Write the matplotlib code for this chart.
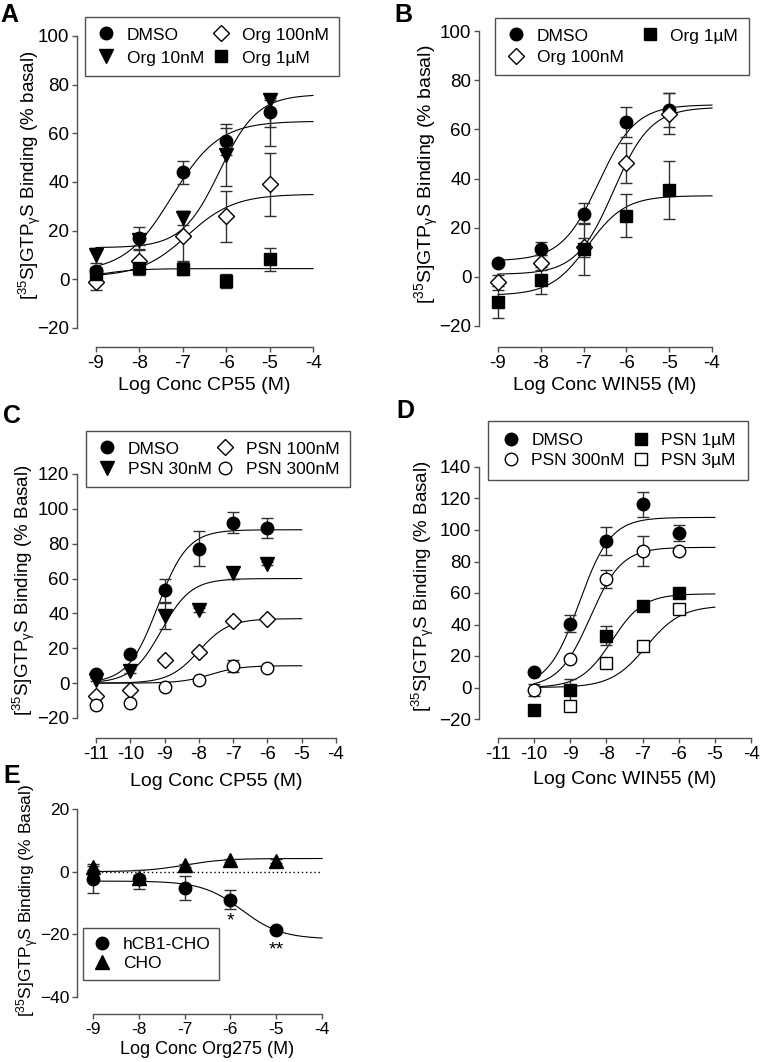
import numpy as np
import matplotlib.pyplot as plt

plt.rcParams['font.family'] = ['Liberation Sans', 'DejaVu Sans']
plt.rcParams['mathtext.fontset'] = 'custom'
plt.rcParams['mathtext.rm'] = 'Liberation Sans'
plt.rcParams['mathtext.it'] = 'Liberation Sans'
plt.rcParams['mathtext.bf'] = 'Liberation Sans:bold'

# Panel A: CP55 + Org
a_x = [-9, -8, -7, -6, -5]
a_labels = ['DMSO', 'Org 10nM', 'Org 100nM', 'Org 1µM']
a_y = [[3.4, 17, 44, 56.7, 68.7],
       [9.8, 16, 25.3, 51.2, 73.8],
       [-1, 7.5, 17.8, 26, 39],
       [2, 4.6, 4.4, -0.7, 8.2]]
a_err = [[1.5, 4.4, 4.7, 5.6, 6.0],
         [3, 2, 2.8, 12.8, 19],
         [3.4, 4.5, 10.3, 10.5, 13],
         [1, 3, 2.6, 2.8, 4.6]]
# upper bars where they differ from the lower ones (hidden above the marker)
a_err_up = [[1.5, 4.4, 4.7, 5.6, 6.0],
            [3, 2, 2.8, 12.8, 0],
            [3.4, 4.5, 10.3, 10.5, 13],
            [1, 3, 2.6, 2.8, 4.6]]
# fit: bottom, top, logEC50, hill
a_fit = [[3, 65, -7.25, 0.8],
         [13, 76, -6.15, 1.0],
         [1, 35, -6.9, 0.8],
         [0, 4.4, -8.9, 1.0]]

# Panel B: WIN55 + Org
b_x = [-9, -8, -7, -6, -5]
b_labels = ['DMSO', 'Org 100nM', 'Org 1µM']
b_y = [[5.7, 11.5, 25.7, 63, 67.8],
       [-2.3, 5.8, 12, 46.3, 66.4],
       [-10.2, -1.4, 11.2, 24.8, 35.2]]
b_err = [[1, 2.6, 4.3, 6, 7],
         [3, 3, 4, 8, 8.5],
         [6.5, 5.5, 10.5, 8.7, 11.8]]
b_fit = [[6.5, 70, -6.65, 1.0],
         [1, 69, -6.3, 1.0],
         [-7.5, 33, -6.9, 1.0]]

# Panel C: CP55 + PSN
c_x = [-11, -10, -9, -8, -7, -6]
c_labels = ['DMSO', 'PSN 30nM', 'PSN 100nM', 'PSN 300nM']
c_y = [[5.4, 16.7, 53.3, 77.2, 92, 89],
       [2, 7, 38.7, 42, 63, 68.6],
       [-7.3, -3.8, 13, 17.6, 35.8, 37],
       [-12.8, -11.5, -2.1, 1.9, 9.9, 8.6]]
c_err = [[1, 1, 6.5, 10, 6, 6],
         [1, 1, 7.5, 1, 3.5, 1],
         [1, 1, 1, 1, 1, 1],
         [1, 1, 1, 1, 3.5, 1]]
c_fit = [[0, 88, -9.2, 1.0],
         [0, 60, -9.1, 1.0],
         [0, 37, -8.0, 1.0],
         [0, 10, -7.65, 1.0]]

# Panel D: WIN55 + PSN
d_x = [-10, -9, -8, -7, -6]
d_labels = ['DMSO', 'PSN 300nM', 'PSN 1µM', 'PSN 3µM']
d_y = [[10, 40.5, 93, 116.4, 98],
       [-1.7, 17.8, 68.8, 86.6, 86.6],
       [-14.6, -1.5, 33, 52, 59.7],
       [np.nan, -12, 15.3, 26.6, 49.7]]
d_err = [[1, 5.5, 9, 8, 5],
         [4, 1, 5.5, 9.5, 1],
         [1, 7, 6, 1, 1],
         [0, 3, 1, 1, 1]]
d_fit = [[0, 108, -8.75, 1.0],
         [0, 89, -8.45, 1.0],
         [0, 59.5, -7.85, 1.0],
         [0, 52, -6.9, 0.9]]

# Panel E: Org275 alone
e_x = [-9, -8, -7, -6, -5]
e_labels = ['hCB1-CHO', 'CHO']
e_y = [[-2.4, -2.4, -5.3, -9, -18.6],
       [1.6, -2, 2, 3.7, 3.4]]
e_err = [[4.3, 3, 3.8, 3, 0.5],
         [1, 1, 0.5, 0.5, 0.5]]
e_fit = [[-3, -21.5, -5.75, 1.0],
         [0, 4.2, -7.0, 1.0]]

styles = {
    'DMSO': ('o', 'black', 9),
    'Org 10nM': ('v', 'black', 9.5),
    'Org 100nM': ('D', 'white', 8),
    'Org 1µM': ('s', 'black', 9),
    'PSN 30nM': ('v', 'black', 9.5),
    'PSN 100nM': ('D', 'white', 8),
    'PSN 300nM': ('o', 'white', 9),
    'PSN 1µM': ('s', 'black', 9),
    'PSN 3µM': ('s', 'white', 9),
    'hCB1-CHO': ('o', 'black', 9),
    'CHO': ('^', 'black', 9.5),
}

W, H, DPI = 762, 1062, 100
fig = plt.figure(figsize=(W / DPI, H / DPI), dpi=DPI)
grey = '#505050'


def sigmoid(x, p):
    bottom, top, ec50, hill = p
    return bottom + (top - bottom) / (1 + 10 ** ((ec50 - x) * hill))


def make_axes(left, right, top, bottom, x0_px, x0, x1, ylo, yhi, drop, yticks, fs):
    ax = fig.add_axes([left / W, 1 - bottom / H, (right - left) / W, (bottom - top) / H])
    dec = (right - x0_px) / (x1 - x0)
    ax.set_xlim(x0 - (x0_px - left) / dec, x1)
    ax.set_ylim(ylo, yhi)
    ax.patch.set_visible(False)
    for s in ['top', 'right']:
        ax.spines[s].set_visible(False)
    for s in ['left', 'bottom']:
        ax.spines[s].set_color(grey)
        ax.spines[s].set_linewidth(1)
    ax.spines['bottom'].set_position(('outward', drop * 72 / DPI))
    ax.spines['bottom'].set_bounds(x0, x1)
    ax.set_xticks(np.arange(x0, x1 + 1))
    ax.set_xticklabels([str(int(v)) for v in np.arange(x0, x1 + 1)])
    ax.set_yticks(yticks)
    ax.tick_params(direction='out', length=3.5, width=1, color=grey,
                   labelsize=fs, pad=2)
    return ax


def draw(ax, x, ys, errs, fits, labels, xfit, errs_up=None):
    if errs_up is None:
        errs_up = errs
    xs = np.linspace(xfit[0], xfit[1], 200)
    for p in fits:
        ax.plot(xs, sigmoid(xs, p), color='black', lw=0.8, clip_on=False, zorder=2)
    handles = []
    for y, lo, hi, lab in zip(ys, errs, errs_up, labels):
        m, fc, ms = styles[lab]
        c = ax.errorbar(x, y, yerr=[lo, hi], fmt=m, ms=ms, mfc=fc, mec='black', mew=1,
                        ecolor='#303030', elinewidth=1, capsize=4.5, capthick=1,
                        clip_on=False, zorder=3)
        handles.append(c[0])
    return handles


def legend(ax, handles, labels, x, y, ncol, fs, colsp, ls=0.4, bp=0.55):
    leg = ax.legend(handles, labels, loc='upper left', bbox_to_anchor=(x / W, 1 - y / H),
                    bbox_transform=fig.transFigure, ncol=ncol, fontsize=fs,
                    frameon=True, fancybox=False, framealpha=1, borderaxespad=0,
                    handlelength=1.2, handletextpad=0.6, columnspacing=colsp,
                    labelspacing=ls, borderpad=bp)
    leg.get_frame().set_edgecolor(grey)
    leg.get_frame().set_linewidth(1)


def ylab(x, y, text, fs):
    fig.text(x / W, 1 - y / H, text, rotation=90, ha='center', va='center', fontsize=fs)


def xlab(x, y, text, fs):
    fig.text(x / W, 1 - y / H, text, ha='center', va='center', fontsize=fs)


def letter(x, y, s):
    fig.text(x / W, 1 - y / H, s, fontsize=18, fontweight='bold', ha='left', va='baseline')


# A
ax = make_axes(77, 313, 36, 328, 96, -9, -4, -20, 100, 19, np.arange(-20, 101, 20), 13.5)
h = draw(ax, a_x, a_y, a_err, a_fit, a_labels, (-9, -4), a_err_up)
legend(ax, h, a_labels, 85, 17, 2, 12.5, 0.4, 0.45, 0.6)
ylab(30, 175, r'[$^{35}$S]GTP$_{\gamma}$S Binding (% basal)', 13.5)
xlab(204, 385, 'Log Conc CP55 (M)', 14)
letter(0, 22, 'A')

# B
ax = make_axes(479, 712, 31, 326, 498, -9, -4, -20, 100, 21, np.arange(-20, 101, 20), 13.5)
h = draw(ax, b_x, b_y, b_err, b_fit, b_labels, (-9, -4))
legend(ax, h, b_labels, 495, 18, 2, 12.5, 0.9, 0.35, 0.6)
ylab(427, 174, r'[$^{35}$S]GTP$_{\gamma}$S Binding (% basal)', 14)
xlab(605, 385, 'Log Conc WIN55 (M)', 14)
letter(394, 22, 'B')

# C
ax = make_axes(77, 336, 474, 718, 96, -11, -4, -20, 120, 20, np.arange(-20, 121, 20), 13.5)
h = draw(ax, c_x, c_y, c_err, c_fit, c_labels, (-11, -5))
legend(ax, h, c_labels, 86, 431, 2, 12.5, 0.2, 0.3, 0.6)
ylab(24, 590, r'[$^{35}$S]GTP$_{\gamma}$S Binding (% Basal)', 13.5)
xlab(216, 782, 'Log Conc CP55 (M)', 14)
letter(3, 423, 'C')

# D
ax = make_axes(479, 751, 467, 719, 498, -11, -4, -20, 140, 19, np.arange(-20, 141, 20), 13.5)
h = draw(ax, d_x, d_y, d_err, d_fit, d_labels, (-10, -5))
legend(ax, h, d_labels, 488, 421, 2, 12.5, 0.3, 0.25, 0.7)
ylab(423, 586, r'[$^{35}$S]GTP$_{\gamma}$S Binding (% Basal)', 13.5)
xlab(625, 780, 'Log Conc WIN55 (M)', 14)
letter(396, 418, 'D')

# E
ax = make_axes(77, 322, 809, 997, 93, -9, -4, -40, 20, 17, [-40, -20, 0, 20], 12.5)
ax.plot([-9, -4], [0, 0], color='black', lw=1, ls=(0, (1, 2)), zorder=1)
h = draw(ax, e_x, e_y[::-1], e_err[::-1], e_fit, e_labels[::-1], (-9, -4))
ax.text(-6, -15.8, '*', ha='center', va='center', fontsize=14)
ax.text(-5, -25, '**', ha='center', va='center', fontsize=14)
legend(ax, h[::-1], e_labels, 83, 928, 1, 12.5, 1.0, 0.25, 0.5)
ylab(28, 900, r'[$^{35}$S]GTP$_{\gamma}$S Binding (% Basal)', 12.5)
xlab(207, 1050, 'Log Conc Org275 (M)', 13)
letter(3, 783, 'E')

fig.savefig('out.png', dpi=DPI)
